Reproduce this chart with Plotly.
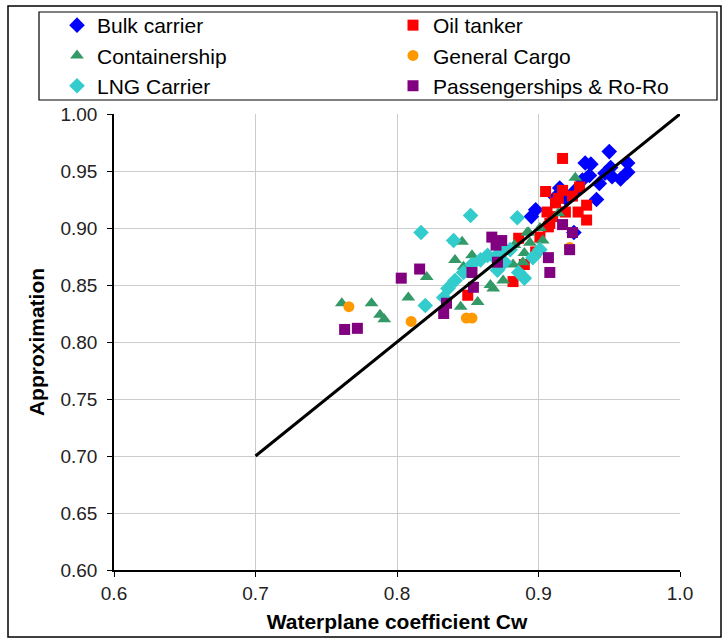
import plotly.graph_objects as go

# ---- data ----
bulk_x = [0.950, 0.933, 0.937, 0.963, 0.963, 0.958, 0.947, 0.951, 0.936, 0.943,
          0.941, 0.931, 0.926, 0.920, 0.898, 0.895, 0.925, 0.915, 0.912, 0.952]
bulk_y = [0.967, 0.957, 0.956, 0.957, 0.949, 0.943, 0.948, 0.953, 0.946, 0.939,
          0.925, 0.942, 0.933, 0.925, 0.916, 0.910, 0.896, 0.935, 0.927, 0.945]

oil_x = [0.917, 0.905, 0.917, 0.929, 0.912, 0.906, 0.910, 0.908, 0.928, 0.934, 0.919,
         0.934, 0.907, 0.898, 0.890, 0.886, 0.882, 0.850, 0.901, 0.914, 0.924]
oil_y = [0.961, 0.932, 0.933, 0.936, 0.922, 0.914, 0.910, 0.904, 0.914, 0.907, 0.914,
         0.920, 0.901, 0.879, 0.868, 0.891, 0.853, 0.841, 0.892, 0.926, 0.928]

cont_x = [0.761, 0.782, 0.788, 0.791, 0.808, 0.821, 0.841, 0.846, 0.841, 0.853, 0.847,
          0.866, 0.882, 0.889, 0.893, 0.868, 0.857, 0.845, 0.875, 0.892, 0.894, 0.903,
          0.890, 0.914, 0.926, 0.876, 0.883, 0.901]
cont_y = [0.834, 0.834, 0.824, 0.820, 0.839, 0.857, 0.889, 0.888, 0.872, 0.876, 0.866,
          0.850, 0.868, 0.870, 0.896, 0.847, 0.835, 0.831, 0.854, 0.896, 0.887, 0.889,
          0.878, 0.913, 0.944, 0.882, 0.885, 0.900]

cargo_x = [0.766, 0.810, 0.849, 0.853, 0.922]
cargo_y = [0.831, 0.818, 0.821, 0.821, 0.883]

lng_x = [0.817, 0.852, 0.885, 0.840, 0.820, 0.833, 0.836, 0.841, 0.847, 0.853, 0.859,
         0.864, 0.869, 0.874, 0.880, 0.876, 0.886, 0.890, 0.896, 0.901, 0.871]
lng_y = [0.896, 0.911, 0.909, 0.889, 0.832, 0.839, 0.847, 0.854, 0.861, 0.868, 0.872,
         0.876, 0.874, 0.881, 0.881, 0.870, 0.861, 0.856, 0.874, 0.881, 0.863]

pass_x = [0.763, 0.772, 0.803, 0.816, 0.833, 0.835, 0.853, 0.854, 0.867, 0.874, 0.871,
          0.870, 0.917, 0.924, 0.922, 0.907, 0.908]
pass_y = [0.811, 0.812, 0.856, 0.864, 0.825, 0.834, 0.861, 0.848, 0.892, 0.889, 0.870,
          0.885, 0.903, 0.896, 0.881, 0.874, 0.861]

line_x = [0.7, 1.0]
line_y = [0.7, 1.0]

x_ticks = [0.6, 0.7, 0.8, 0.9, 1.0]
y_ticks = [0.60, 0.65, 0.70, 0.75, 0.80, 0.85, 0.90, 0.95, 1.00]

FONT = "Liberation Sans, Arial, sans-serif"

fig = go.Figure()

series = [
    ("Bulk carrier", bulk_x, bulk_y, "diamond", "#0000FF", 12, "legend"),
    ("Oil tanker", oil_x, oil_y, "square", "#FF0000", 11, "legend2"),
    ("Containership", cont_x, cont_y, "triangle-up", "#339966", 12, "legend"),
    ("General Cargo", cargo_x, cargo_y, "circle", "#FF9900", 11, "legend2"),
    ("LNG Carrier", lng_x, lng_y, "diamond", "#33CCCC", 12, "legend"),
    ("Passengerships & Ro-Ro", pass_x, pass_y, "square", "#800080", 11, "legend2"),
]
for name, xs, ys, sym, col, sz, lg in series:
    fig.add_trace(go.Scatter(
        x=xs, y=ys, mode="markers", name=name, legend=lg,
        marker=dict(symbol=sym, color=col, size=sz, line=dict(width=0)),
    ))

fig.add_trace(go.Scatter(
    x=line_x, y=line_y, mode="lines", showlegend=False,
    line=dict(color="black", width=3), hoverinfo="skip",
))

W, H = 726, 642
L, R, T, B = 114, 46, 114, 72
pw, ph = W - L - R, H - T - B


def px_to_paper_x(px):
    return (px - L) / pw


def px_to_paper_y(py):
    return (H - B - py) / ph


legend_common = dict(
    orientation="v", xanchor="left", yanchor="top",
    bgcolor="rgba(0,0,0,0)", borderwidth=0,
    font=dict(family=FONT, size=21, color="black"),
    itemwidth=30, tracegroupgap=0,
)

fig.update_layout(
    width=W, height=H,
    margin=dict(l=L, r=R, t=T, b=B, autoexpand=False),
    paper_bgcolor="white", plot_bgcolor="white",
    font=dict(family=FONT, size=19, color="#222222"),
    showlegend=True,
    legend=dict(x=px_to_paper_x(57), y=px_to_paper_y(5), **legend_common),
    legend2=dict(x=px_to_paper_x(393), y=px_to_paper_y(5), **legend_common),
    xaxis=dict(
        range=[0.6, 1.0], tickvals=x_ticks, tickformat=".1f",
        showgrid=True, gridcolor="#CCCCCC", gridwidth=1,
        showline=True, linecolor="black", linewidth=1.5,
        ticks="outside", ticklen=5, tickcolor="black",
        zeroline=False, mirror=False, ticklabelstandoff=0,
        title=dict(text="<b>Waterplane coefficient Cw</b>",
                   font=dict(family=FONT, size=21, color="black"), standoff=12),
        tickfont=dict(family=FONT, size=19, color="#222222"),
    ),
    yaxis=dict(
        range=[0.6, 1.0], tickvals=y_ticks, tickformat=".2f",
        showgrid=True, gridcolor="#CCCCCC", gridwidth=1,
        showline=True, linecolor="black", linewidth=1.5,
        ticks="outside", ticklen=5, tickcolor="black",
        zeroline=False, ticklabelstandoff=6,
        title=dict(text="<b>Approximation</b>",
                   font=dict(family=FONT, size=21, color="black"), standoff=10),
        tickfont=dict(family=FONT, size=19, color="#222222"),
    ),
)

# legend frame
fig.add_shape(type="rect", xref="paper", yref="paper",
              x0=px_to_paper_x(39), x1=px_to_paper_x(717),
              y0=px_to_paper_y(100), y1=px_to_paper_y(12),
              line=dict(color="black", width=1.2), fillcolor="rgba(0,0,0,0)",
              layer="above")

# outer frame of the figure
fig.add_shape(type="rect", xref="paper", yref="paper",
              x0=px_to_paper_x(8), x1=px_to_paper_x(721),
              y0=px_to_paper_y(637), y1=px_to_paper_y(6),
              line=dict(color="black", width=1.5), fillcolor="rgba(0,0,0,0)",
              layer="above")

fig.write_html(
    "out.html",
    config={"displayModeBar": False},
    post_script="document.body.style.margin='0';document.body.style.overflow='hidden';",
)
